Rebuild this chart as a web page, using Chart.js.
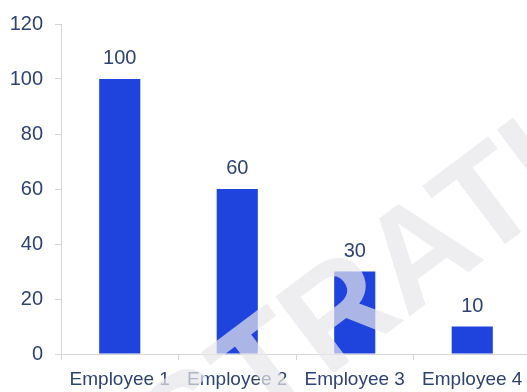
<!DOCTYPE html>
<html>
<head>
<meta charset="utf-8">
<script src="https://cdn.jsdelivr.net/npm/chart.js@4"></script>
<style>
  html, body { margin: 0; padding: 0; background: #fff; overflow: hidden; }
  #wrap { width: 532px; height: 392px; }
</style>
</head>
<body>
<div id="wrap"><canvas id="chart"></canvas></div>
<script>
const employees = ['Employee 1', 'Employee 2', 'Employee 3', 'Employee 4'];
const scores = [100, 60, 30, 10];
const yMax = 120;
const yStep = 20;
const watermark = 'ILLUSTRATION';

const FONT = '"Liberation Sans", Arial, sans-serif';
const TEXT = '#2d4373';

// value labels above each bar
const valueLabels = {
    id: 'valueLabels',
    afterDatasetsDraw(chart) {
        const ctx = chart.ctx;
        const meta = chart.getDatasetMeta(0);
        ctx.save();
        ctx.font = '20px ' + FONT;
        ctx.fillStyle = TEXT;
        ctx.textAlign = 'center';
        ctx.textBaseline = 'alphabetic';
        meta.data.forEach((bar, i) => {
            ctx.fillText(String(scores[i]), bar.x, bar.y - 15);
        });
        ctx.restore();
    }
};

// faint diagonal stamp laid over the whole picture
const stamp = {
    id: 'stamp',
    afterDraw(chart) {
        const ctx = chart.ctx;
        ctx.save();
        ctx.font = 'bold 140px ' + FONT;
        const before = ctx.measureText('ILLUST').width;
        const rWidth = ctx.measureText('R').width;
        ctx.translate(343, 318);
        ctx.rotate(-37 * Math.PI / 180);
        ctx.fillStyle = 'rgba(231, 231, 233, 0.7)';
        ctx.textBaseline = 'middle';
        ctx.textAlign = 'left';
        ctx.fillText(watermark, -before - rWidth / 2, 0);
        ctx.restore();
    }
};

new Chart(document.getElementById('chart'), {
    type: 'bar',
    data: {
        labels: employees,
        datasets: [{
            data: scores,
            backgroundColor: '#1f44de',
            barPercentage: 0.35,
            categoryPercentage: 1
        }]
    },
    options: {
        responsive: true,
        maintainAspectRatio: false,
        animation: false,
        layout: { padding: { top: 12, right: 1, left: 0, bottom: 0 } },
        plugins: {
            legend: { display: false },
            tooltip: { enabled: false }
        },
        scales: {
            x: {
                grid: {
                    display: true,
                    drawOnChartArea: false,
                    drawTicks: true,
                    tickLength: 6,
                    color: '#d6d6d6',
                    offset: true
                },
                border: { display: true, color: '#d6d6d6' },
                ticks: {
                    color: TEXT,
                    font: { family: FONT, size: 19 },
                    padding: 8,
                    maxRotation: 0,
                    autoSkip: false
                },
                afterFit(scale) { scale.height = 38; }
            },
            y: {
                min: 0,
                max: yMax,
                grid: {
                    display: true,
                    drawOnChartArea: false,
                    drawTicks: true,
                    tickLength: 6,
                    color: '#d6d6d6'
                },
                border: { display: true, color: '#d6d6d6' },
                ticks: {
                    stepSize: yStep,
                    color: TEXT,
                    font: { family: FONT, size: 20 },
                    padding: 12
                },
                afterFit(scale) { scale.width = 61; }
            }
        }
    },
    plugins: [valueLabels, stamp]
});
</script>
</body>
</html>
